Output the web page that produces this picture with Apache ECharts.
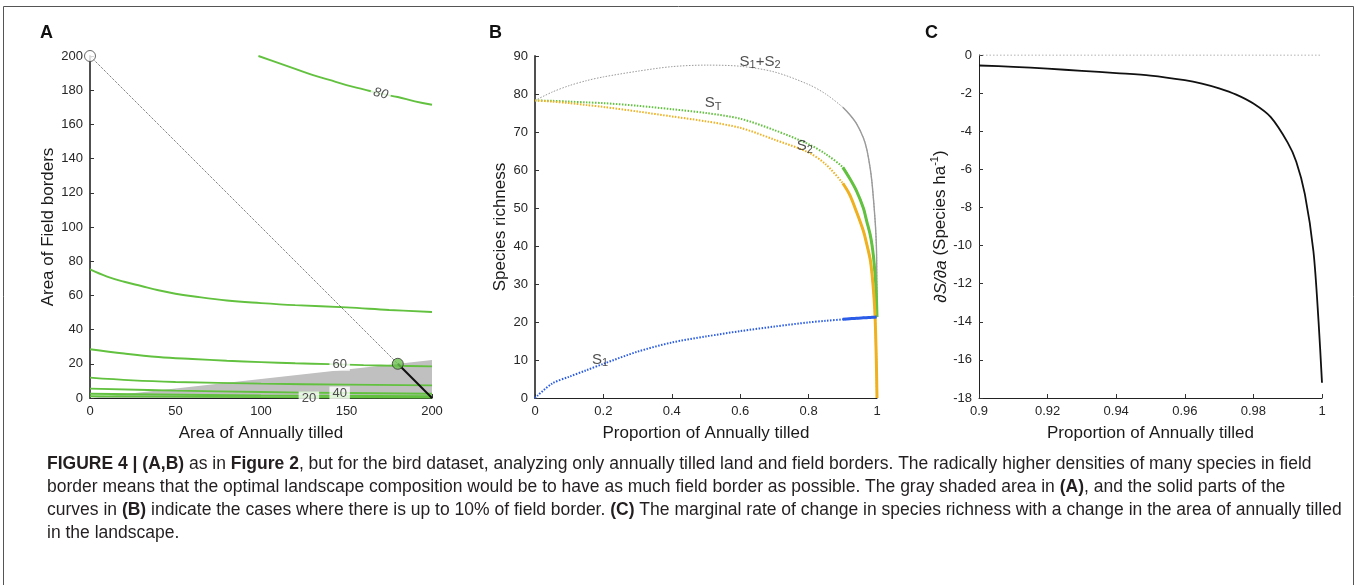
<!DOCTYPE html>
<html>
<head>
<meta charset="utf-8">
<script src="https://cdn.jsdelivr.net/npm/echarts@6/dist/echarts.min.js"></script>
<style>
html, body { margin: 0; padding: 0; background: #fff; }
#chart { width: 1357px; height: 585px; }
</style>
</head>
<body>
<div id="chart"></div>
<script>
// ---- Panel A: contour lines of species richness (annually tilled vs field borders)
const contour80 = [[98.5,200],[110,196],[120,192.5],[130,189],[140,186],[150,183],[160,180.5],[170,178],[180,176],[190,173.5],[200,171.5]];
const contour70 = [[0,75.2],[10,71],[20,68],[30,65.5],[40,63],[50,61],[60,59.5],[80,57],[100,55.5],[120,54.3],[150,53],[175,51.5],[200,50.3]];
const contour60 = [[0,28.5],[20,26],[40,24],[60,22.8],[80,21.8],[100,21],[120,20.3],[140,19.8],[160,19.2],[180,18.8],[200,18.5]];
const contour50 = [[0,11.9],[25,10.3],[50,9.4],[100,8.4],[150,7.8],[200,7.4]];
const contour40 = [[0,5.5],[50,4.3],[100,3.5],[150,2.9],[200,2.5]];
const contour30 = [[0,2.5],[100,1.5],[200,1]];
const contour20 = [[0,1],[100,0.5],[200,0.2]];
const contourLabels = ['80', '60', '40', '20'];
const contourLabelX = [170, 146, 146, 128];
const contourLabelY = [178, 19.7, 2.9, 0];
const shadedEdge = [[0,0],[200,22.2]];     // up to 10% field border
const budgetLine = [[0,200],[200,0]];
const optimalPart = [[180,20],[200,0]];
const startPoint = [0,200];
const optimum = [180,20];

// ---- Panel B: richness vs proportion annually tilled
const bX   = [0,0.05,0.1,0.15,0.2,0.3,0.4,0.5,0.6,0.7,0.8,0.85,0.9,0.92,0.94,0.96,0.97,0.98,0.985,0.99,0.993,0.995,0.996,0.998,0.999,1];
const bS12 = [78.3,80.5,82.2,83.5,84.5,86.0,87.2,87.6,87.3,85.8,82.5,80,76.5,74.6,72.2,68.5,65.5,60.5,57,52,48.5,46,44.5,40.5,36.5,21.3];
const bST  = [78.3,78.2,78.0,77.8,77.6,76.9,76.0,75.0,73.5,70.5,66.8,64.2,60.7,57.8,54.5,50,46.5,43,40.5,37,34,32,30.5,27,24.5,21.3];
const bS2  = [78.3,78.0,77.6,77.1,76.6,75.4,74.1,72.8,71.1,68.0,64.6,61.5,56.5,53.5,49,44,40.5,36.5,33,28,24,20,17,10,5,0];
const bS1  = [0,3.8,5.6,7.3,9.0,12.2,14.6,16.2,17.6,18.8,19.9,20.3,20.7,20.85,21.0,21.1,21.15,21.2,21.22,21.25,21.27,21.28,21.29,21.3,21.3,21.3];
const bLabelX = [0.658, 0.521, 0.789, 0.19];
const bLabelY = [88.3, 77.5, 66, 9.9];
const bLabelRich = ['{s|S}{sub|1}{s|+S}{sub|2}', '{s|S}{sub|T}', '{s|S}{sub|2}', '{s|S}{sub|1}'];

// ---- Panel C: marginal rate of change
const cX = [0.9,0.91,0.92,0.93,0.94,0.95,0.96,0.965,0.97,0.975,0.98,0.985,0.99,0.9925,0.995,0.9975,0.999,1];
const cY = [-0.55,-0.62,-0.72,-0.83,-0.95,-1.08,-1.32,-1.5,-1.75,-2.08,-2.55,-3.25,-4.6,-5.6,-7.3,-10.3,-14,-17.2];

const captionLines = [
  [['b','FIGURE 4 | (A,B)'],['n',' as in '],['b','Figure 2'],['n',', but for the bird dataset, analyzing only annually tilled land and field borders. The radically higher densities of many species in field']],
  [['n','border means that the optimal landscape composition would be to have as much field border as possible. The gray shaded area in '],['b','(A)'],['n',', and the solid parts of the']],
  [['n','curves in '],['b','(B)'],['n',' indicate the cases where there is up to 10% of field border. '],['b','(C)'],['n',' The marginal rate of change in species richness with a change in the area of annually tilled']],
  [['n','in the landscape.']]
];

const FONT = "'Liberation Sans', Arial, sans-serif";
const GREEN = '#62c13f', ORANGE = '#efb11f', BLUE = '#2a5ce8', GRAY = '#9a9a9a';

function pairs(xs, ys, from, to) {
  return xs.map((x, i) => [x, ys[i]]).filter(p => p[0] >= from && p[0] <= to);
}

const chart = echarts.init(document.getElementById('chart'));

function axisCommon(thick) {
  return {
    axisLine: { show: true, onZero: false, lineStyle: { color: thick ? '#505050' : '#222', width: thick ? 2 : 1 } },
    axisTick: { show: true, inside: true, length: 4, lineStyle: { color: '#333' } },
    axisLabel: { color: '#262626', fontSize: 13, fontFamily: FONT, margin: 7 },
    splitLine: { show: false },
    nameLocation: 'middle',
    nameTextStyle: { color: '#1a1a1a', fontSize: 17, fontFamily: FONT }
  };
}

const series = [];

// A: shaded area, contours, budget line, points
series.push({ type: 'line', xAxisIndex: 0, yAxisIndex: 0, data: shadedEdge, symbol: 'none',
  lineStyle: { width: 0 }, areaStyle: { color: '#c0c0c0', opacity: 1, origin: 'start' }, z: 1 });
[contour80, contour70, contour60, contour50, contour40, contour30, contour20].forEach(c => {
  series.push({ type: 'line', xAxisIndex: 0, yAxisIndex: 0, data: c, symbol: 'none', smooth: 0.4,
    lineStyle: { color: GREEN, width: 1.9 }, z: 2 });
});
series.push({ type: 'scatter', xAxisIndex: 0, yAxisIndex: 0, symbolSize: 0, z: 5,
  data: contourLabels.map((t, i) => ({ value: [contourLabelX[i], contourLabelY[i]], name: t,
    label: { rotate: i === 0 ? -13 : 0, fontStyle: i === 0 ? 'italic' : 'normal' } })),
  label: { show: true, position: 'inside', formatter: p => p.name, color: '#222', fontSize: 13,
    fontFamily: FONT, backgroundColor: '#fff', padding: [0, 3] } });
series.push({ type: 'line', xAxisIndex: 0, yAxisIndex: 0, data: budgetLine, symbol: 'none',
  lineStyle: { color: '#222', width: 0.8, type: [1, 1.2] }, z: 6 });
series.push({ type: 'line', xAxisIndex: 0, yAxisIndex: 0, data: optimalPart, symbol: 'none',
  lineStyle: { color: '#111', width: 2 }, z: 6 });
series.push({ type: 'scatter', xAxisIndex: 0, yAxisIndex: 0, data: [startPoint], symbolSize: 11,
  itemStyle: { color: '#fff', borderColor: '#444', borderWidth: 1 }, z: 7 });
series.push({ type: 'scatter', xAxisIndex: 0, yAxisIndex: 0, data: [optimum], symbolSize: 11,
  itemStyle: { color: '#6cc24f', borderColor: '#333', borderWidth: 1 }, z: 7 });

// B: dotted over the whole range, solid from 0.9 (up to 10% field border) on top
[[bS12, GRAY, 1, 1.4], [bST, GREEN, 2, 3], [bS2, ORANGE, 2, 3], [bS1, BLUE, 2, 3]].forEach(([ys, col, wd, ws]) => {
  series.push({ type: 'line', xAxisIndex: 1, yAxisIndex: 1, data: pairs(bX, ys, 0, 1), symbol: 'none',
    smooth: 0.3, lineStyle: { color: col, width: wd, type: [1.5, 1.5] }, z: 3 });
  series.push({ type: 'line', xAxisIndex: 1, yAxisIndex: 1, data: pairs(bX, ys, 0.9, 1), symbol: 'none',
    smooth: 0.3, lineStyle: { color: col, width: ws }, z: 4 });
});
series.push({ type: 'scatter', xAxisIndex: 1, yAxisIndex: 1, symbolSize: 0, z: 8,
  data: bLabelRich.map((t, i) => ({ value: [bLabelX[i], bLabelY[i]], name: t })),
  label: { show: true, position: 'inside', formatter: p => p.name, fontFamily: FONT,
    rich: {
      s: { fontSize: 15, lineHeight: 17, verticalAlign: 'top', color: '#222', fontFamily: FONT },
      sub: { fontSize: 11, lineHeight: 12, verticalAlign: 'bottom', color: '#222', fontFamily: FONT, padding: [10, 0, 0, 0] }
    } } });

// C
series.push({ type: 'line', xAxisIndex: 2, yAxisIndex: 2, data: [[0.9, 0], [1, 0]], symbol: 'none',
  lineStyle: { color: '#999', width: 1, type: [1.5, 2] }, z: 2 });
series.push({ type: 'line', xAxisIndex: 2, yAxisIndex: 2, data: pairs(cX, cY, 0.9, 1), symbol: 'none', smooth: 0.3,
  lineStyle: { color: '#111', width: 1.8 }, z: 3 });

const graphic = [
  { type: 'rect', shape: { x: 3.5, y: 6.5, width: 1350, height: 620 }, style: { fill: 'none', stroke: '#555', lineWidth: 1 }, silent: true },
  { type: 'text', left: 40, top: 24, style: { text: 'A', font: "bold 18px " + FONT, fill: '#111' } },
  { type: 'text', left: 489, top: 24, style: { text: 'B', font: "bold 18px " + FONT, fill: '#111' } },
  { type: 'text', left: 925, top: 24, style: { text: 'C', font: "bold 18px " + FONT, fill: '#111' } }
];
captionLines.forEach((segs, i) => {
  graphic.push({ type: 'text', left: 47, top: 455 + i * 23, style: {
    text: segs.map(([k, t]) => '{' + k + '|' + t + '}').join(''),
    rich: {
      b: { fontSize: 17.5, fontWeight: 'bold', fontFamily: FONT, fill: '#231f20', color: '#231f20' },
      n: { fontSize: 17.5, fontFamily: FONT, fill: '#231f20', color: '#231f20' }
    } } });
});

chart.setOption({
  animation: false,
  backgroundColor: '#fff',
  grid: [
    { left: 90, top: 56, width: 342, height: 342 },
    { left: 535, top: 56, width: 342, height: 342 },
    { left: 979, top: 55, width: 343, height: 343 }
  ],
  xAxis: [
    Object.assign(axisCommon(false), { gridIndex: 0, type: 'value', min: 0, max: 200, interval: 50,
      name: 'Area of Annually tilled', nameGap: 27 }),
    Object.assign(axisCommon(false), { gridIndex: 1, type: 'value', min: 0, max: 1, interval: 0.2,
      name: 'Proportion of Annually tilled', nameGap: 27 }),
    Object.assign(axisCommon(false), { gridIndex: 2, type: 'value', min: 0.9, max: 1, interval: 0.02,
      name: 'Proportion of Annually tilled', nameGap: 27 })
  ],
  yAxis: [
    Object.assign(axisCommon(true), { gridIndex: 0, type: 'value', min: 0, max: 200, interval: 20,
      name: 'Area of Field borders', nameGap: 33 }),
    Object.assign(axisCommon(true), { gridIndex: 1, type: 'value', min: 0, max: 90, interval: 10,
      name: 'Species richness', nameGap: 26 }),
    Object.assign(axisCommon(false), { gridIndex: 2, type: 'value', min: -18, max: 0, interval: 2,
      name: '{i|\u2202S/\u2202a} {a|(Species ha}{sup|-1}{a|)}', nameGap: 28,
      nameTextStyle: { color: '#1a1a1a', fontSize: 17, fontFamily: FONT,
        rich: {
          i: { fontSize: 17, fontStyle: 'italic', lineHeight: 20, verticalAlign: 'bottom', fontFamily: FONT, color: '#1a1a1a' },
          a: { fontSize: 17, lineHeight: 20, verticalAlign: 'bottom', fontFamily: FONT, color: '#1a1a1a' },
          sup: { fontSize: 11, lineHeight: 12, verticalAlign: 'top', fontFamily: FONT, color: '#1a1a1a' }
        } } })
  ],
  series: series,
  graphic: graphic
});
</script>
</body>
</html>
